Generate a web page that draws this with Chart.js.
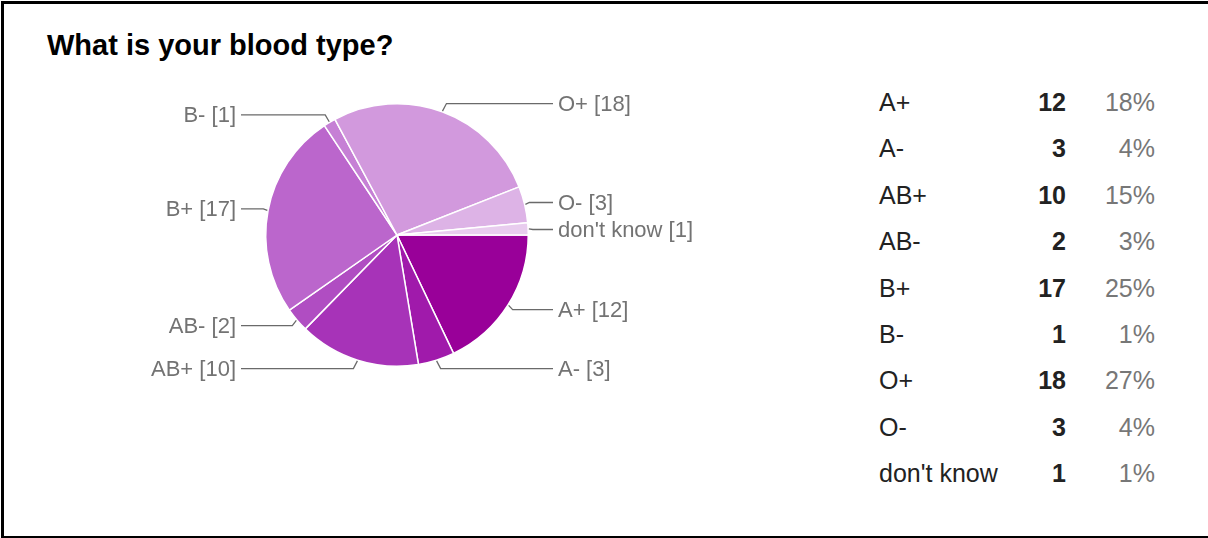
<!DOCTYPE html>
<html>
<head>
<meta charset="utf-8">
<script src="https://cdn.jsdelivr.net/npm/chart.js@4.4.0/dist/chart.umd.min.js"></script>
<style>
    body {
        margin: 0;
        width: 1208px;
        height: 538px;
        background: #fff;
        overflow: hidden;
        font-family: "Liberation Sans", Arial, sans-serif;
    }
    .frame {
        position: absolute;
        left: 1px;
        top: 1px;
        width: 1210px;
        height: 532px;
        border: 3px solid #000;
        pointer-events: none;
    }
    #pieChart {
        position: absolute;
        left: 0;
        top: 0;
    }
    .title {
        position: absolute;
        left: 47px;
        top: 28px;
        font-size: 29px;
        line-height: 34px;
        font-weight: bold;
        color: #000;
    }
    .summary {
        position: absolute;
        left: 879px;
        top: 79px;
        font-size: 25px;
    }
    .summary .row {
        display: grid;
        grid-template-columns: 150px 37px 89px;
        height: 46.4px;
        line-height: 46.4px;
    }
    .summary .name { color: #222; }
    .summary .count { color: #222; font-weight: bold; text-align: right; }
    .summary .pct { color: #777; text-align: right; }
</style>
</head>
<body>
<div class="title">What is your blood type?</div>
<canvas id="pieChart" width="860" height="538"></canvas>
<div class="summary" id="summary"></div>
<div class="frame"></div>

<script>
const bloodTypes = ['A+', 'A-', 'AB+', 'AB-', 'B+', 'B-', 'O+', 'O-', "don't know"];
const responses = [12, 3, 10, 2, 17, 1, 18, 3, 1];
const sliceColors = ['#990099', '#a01aab', '#a733b8', '#b04dc2', '#bb66cc', '#c680d5', '#d299dd', '#ddb3e6', '#e8ccee'];

const total = responses.reduce((a, b) => a + b, 0);

// Summary table on the right
const summary = document.getElementById('summary');
bloodTypes.forEach(function (t, i) {
    var row = document.createElement('div');
    row.className = 'row';
    row.innerHTML = '<span class="name"></span><span class="count"></span><span class="pct"></span>';
    row.children[0].textContent = t;
    row.children[1].textContent = responses[i];
    row.children[2].textContent = Math.round(responses[i] / total * 100) + '%';
    summary.appendChild(row);
});

// Outside labels with leader lines
const leaderLabels = {
    id: 'leaderLabels',
    afterDatasetsDraw(chart) {
        const ctx = chart.ctx;
        const meta = chart.getDatasetMeta(0);
        const items = meta.data.map((arc, i) => {
            const p = arc.getProps(['x', 'y', 'startAngle', 'endAngle', 'outerRadius'], true);
            const mid = (p.startAngle + p.endAngle) / 2;
            const r = p.outerRadius + 0.75;
            return {
                i: i,
                cx: p.x,
                side: Math.cos(mid) >= 0 ? 1 : -1,
                px: p.x + Math.cos(mid) * r,
                py: p.y + Math.sin(mid) * r,
                ly: p.y + Math.sin(mid) * (r + 8)
            };
        });

        // push labels apart when they get too close
        [1, -1].forEach(side => {
            const group = items.filter(d => d.side === side).sort((a, b) => a.ly - b.ly);
            for (let k = 1; k < group.length; k++) {
                if (group[k].ly - group[k - 1].ly < 27) group[k].ly = group[k - 1].ly + 27;
            }
        });

        ctx.save();
        ctx.strokeStyle = '#6a6a6a';
        ctx.lineWidth = 1.3;
        ctx.fillStyle = '#737373';
        ctx.font = '22px "Liberation Sans", Arial, sans-serif';
        ctx.textBaseline = 'middle';
        items.forEach(d => {
            ctx.beginPath();
            ctx.moveTo(d.px, d.py);
            ctx.lineTo(d.px + d.side * 4, d.ly);
            ctx.lineTo(d.cx + d.side * 156, d.ly);
            ctx.stroke();
            ctx.textAlign = d.side > 0 ? 'left' : 'right';
            ctx.fillText(bloodTypes[d.i] + ' [' + responses[d.i] + ']', d.cx + d.side * 161, d.ly + 1);
        });
        ctx.restore();
    }
};

new Chart(document.getElementById('pieChart'), {
    type: 'pie',
    data: {
        labels: bloodTypes,
        datasets: [{
            data: responses,
            backgroundColor: sliceColors,
            borderColor: '#ffffff',
            borderWidth: 1.5,
            hoverOffset: 0
        }]
    },
    options: {
        responsive: false,
        animation: false,
        rotation: 90,
        events: [],
        layout: {
            padding: { left: 265, top: 103, right: 331, bottom: 171 }
        },
        plugins: {
            legend: { display: false },
            tooltip: { enabled: false }
        }
    },
    plugins: [leaderLabels]
});
</script>
</body>
</html>
